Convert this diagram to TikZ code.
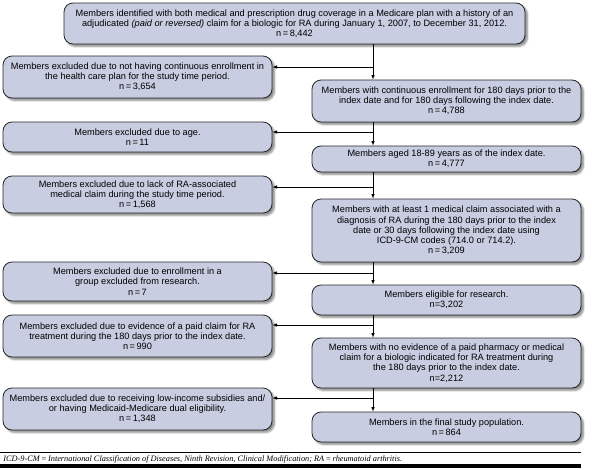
\documentclass[tikz,border=0pt]{standalone}
\usepackage{fontspec}
\setsansfont{Liberation Sans}
\newfontfamily\notefont{Liberation Serif}
\usetikzlibrary{shadows.blur}

\definecolor{boxfill}{RGB}{201,205,226}
\tikzset{
  flowbox/.style={draw=black!85, line width=0.8pt, fill=boxfill, rounded corners=9pt,
    align=center, inner sep=0pt, font=\sffamily\fontsize{9.2}{10.2}\selectfont,
    blur shadow={shadow xshift=2.5pt, shadow yshift=-2.5pt, shadow blur steps=6, shadow opacity=45}},
  exbox/.style={flowbox, minimum width=269pt},
  inbox/.style={flowbox, minimum width=269pt},
}

\begin{document}
\begin{tikzpicture}[x=1pt, y=-1pt, >=latex, line width=0.6pt]
		\useasboundingbox (0,0) rectangle (592,469);
		\node[flowbox, minimum width=461pt, minimum height=41pt] (all) at (294.5,23.5) {Members identified with both medical and prescription drug coverage in a Medicare plan with a history of an\\ adjudicated \textit{(paid or reversed)} claim for a biologic for RA during January 1, 2007, to December 31, 2012.\\ n\,=\,8,442};
		% kept members, right column
		\node[inbox, minimum height=42pt] (s1) at (446.5,101) {Members with continuous enrollment for 180 days prior to the\\ index date and for 180 days following the index date.\\ n\,=\,4,788};
		\node[inbox, minimum height=26pt] (s2) at (446.5,159) {Members aged 18-89 years as of the index date.\\ n\,=\,4,777};
		\node[inbox, minimum height=63pt] (s3) at (446.5,230.5) {Members with at least 1 medical claim associated with a\\ diagnosis of RA during the 180 days prior to the index\\ date or 30 days following the index date using\\ ICD-9-CM codes (714.0 or 714.2).\\ n\,=\,3,209};
		\node[inbox, minimum height=30pt] (s4) at (446.5,300) {Members eligible for research.\\ n=3,202};
		\node[inbox, minimum height=50pt] (s5) at (446.5,363) {Members with no evidence of a paid pharmacy or medical\\ claim for a biologic indicated for RA treatment during\\ the 180 days prior to the index date.\\ n=2,212};
		\node[inbox, minimum height=30pt] (s6) at (446.5,427) {Members in the final study population.\\ n\,=\,864};
		% excluded members, left column
		\node[exbox, minimum height=42pt] (ex1) at (137.5,77) {Members excluded due to not having continuous enrollment in\\ the health care plan for the study time period.\\ n\,=\,3,654};
		\node[exbox, minimum height=30pt] (ex2) at (137.5,137) {Members excluded due to age.\\ n\,=\,11};
		\node[exbox, minimum height=37pt] (ex3) at (137.5,194.5) {Members excluded due to lack of RA-associated\\ medical claim during the study time period.\\ n\,=\,1,568};
		\node[exbox, minimum height=39pt] (ex4) at (137.5,281.5) {Members excluded due to enrollment in a\\ group excluded from research.\\ n\,=\,7};
		\node[exbox, minimum height=42pt] (ex5) at (137.5,336) {Members excluded due to evidence of a paid claim for RA\\ treatment during the 180 days prior to the index date.\\ n\,=\,990};
		\node[exbox, minimum height=42pt] (ex6) at (137.5,409) {Members excluded due to receiving low-income subsidies and/\\ or having Medicaid-Medicare dual eligibility.\\ n\,=\,1,348};
		% branch points on the trunk
		\coordinate (b1) at (373,67);
		\coordinate (b2) at (373,132);
		\coordinate (b3) at (373,187);
		\coordinate (b4) at (373,273);
		\coordinate (b5) at (373,325);
		\coordinate (b6) at (373,398);
		\draw [->] (all.south -| b1) -- (s1.north -| b1);
		\draw [->] (s1.south -| b2) -- (s2.north -| b2);
		\draw [->] (s2.south -| b3) -- (s3.north -| b3);
		\draw [->] (s3.south -| b4) -- (s4.north -| b4);
		\draw [->] (s4.south -| b5) -- (s5.north -| b5);
		\draw [->] (s5.south -| b6) -- (s6.north -| b6);
		\draw [->] (b1) -- (ex1.east |- b1);
		\draw [->] (b2) -- (ex2.east |- b2);
		\draw [->] (b3) -- (ex3.east |- b3);
		\draw [->] (b4) -- (ex4.east |- b4);
		\draw [->] (b5) -- (ex5.east |- b5);
		\draw [->] (b6) -- (ex6.east |- b6);
		% footnote
		\draw [line width=0.8pt] (0,452) -- (581,452);
		\node[anchor=west, inner sep=0pt, font=\notefont\itshape\fontsize{8.3}{9}\selectfont] (note) at (3,459) {ICD-9-CM\,=\,International Classification of Diseases, Ninth Revision, Clinical Modification; RA\,=\,rheumatoid arthritis.};
		\draw [line width=3.5pt] (0,466) -- (581,466);
		\end{tikzpicture}
\end{document}
